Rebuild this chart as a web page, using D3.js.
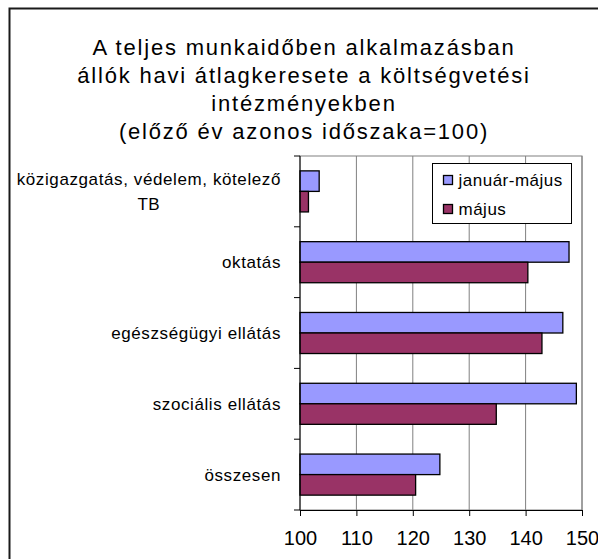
<!DOCTYPE html>
<html>
<head>
<meta charset="utf-8">
<script src="https://cdn.jsdelivr.net/npm/d3@7/dist/d3.min.js"></script>
<style>
   body { margin: 0; background: #fff; }
   text { font-family: "Liberation Sans", Arial, sans-serif; fill: #000; }
</style>
</head>
<body>
<div id="chart"></div>
<script>
// chart data
var titleLines = [
   "A teljes munkaidőben alkalmazásban",
   "állók havi átlagkeresete a költségvetési",
   "intézményekben",
   "(előző év azonos időszaka=100)"
];
var categories = ["közigazgatás", "oktatás", "egészségügyi", "szociális", "összesen"];
var categoryLabels = [
   ["közigazgatás, védelem, kötelező", "TB"],
   ["oktatás"],
   ["egészségügyi ellátás"],
   ["szociális ellátás"],
   ["összesen"]
];
var seriesNames = ["január-május", "május"];
var janMayValues = [103.4, 147.7, 146.6, 149.0, 124.8];
var mayValues = [101.5, 140.4, 142.9, 134.8, 120.5];
var xTicks = [100, 110, 120, 130, 140, 150];

var width = 598, height = 559;
var plot = {left: 300, right: 582, top: 156, bottom: 510};
var colors = ["#9999ff", "#993366"];

var svg = d3.select("#chart").append("svg")
   .attr("width", width)
   .attr("height", height);

// outer chart frame (runs off the window at right and bottom)
svg.append("rect")
   .attr("x", 9.5).attr("y", 8.5)
   .attr("width", 620).attr("height", 580)
   .attr("fill", "none")
   .attr("stroke", "#1a1a1a")
   .attr("stroke-width", 2);

// title
svg.append("g").selectAll("text")
   .data(titleLines)
   .enter().append("text")
   .attr("x", 304)
   .attr("y", function (d, i) { return 55 + i * 28; })
   .attr("text-anchor", "middle")
   .attr("font-size", 22)
   .attr("letter-spacing", 1.8)
   .text(function (d) { return d; });

var x = d3.scaleLinear().domain([100, 150]).range([plot.left, plot.right]);
var y = d3.scaleBand().domain(categories).range([plot.top, plot.bottom])
   .paddingInner(0.42).paddingOuter(0.21);
var ySub = d3.scaleBand().domain(seriesNames).range([0, y.bandwidth()]);

// plot area border and gridlines
svg.append("rect")
   .attr("x", plot.left).attr("y", plot.top)
   .attr("width", plot.right - plot.left).attr("height", plot.bottom - plot.top)
   .attr("fill", "#fff")
   .attr("stroke", "#808080");

svg.append("g").selectAll("line")
   .data(xTicks.slice(1))
   .enter().append("line")
   .attr("x1", function (d) { return x(d); })
   .attr("x2", function (d) { return x(d); })
   .attr("y1", plot.top).attr("y2", plot.bottom)
   .attr("stroke", "#808080");

// bars
var series = [janMayValues, mayValues];
series.forEach(function (vals, s) {
   svg.append("g").selectAll("rect")
      .data(categories)
      .enter().append("rect")
      .attr("x", x(100))
      .attr("y", function (d) { return y(d) + ySub(seriesNames[s]); })
      .attr("width", function (d, i) { return x(vals[i]) - x(100); })
      .attr("height", ySub.bandwidth())
      .attr("fill", colors[s])
      .attr("stroke", "#000")
      .attr("stroke-width", 1.3);
});

// x axis
var xAxis = d3.axisBottom(x).tickValues(xTicks).tickSize(6).tickPadding(15)
   .tickFormat(d3.format("d"));
var gx = svg.append("g")
   .attr("transform", "translate(0," + plot.bottom + ")")
   .call(xAxis);
gx.select(".domain").attr("stroke", "#000");
gx.selectAll(".tick line").attr("stroke", "#000");
gx.selectAll(".tick text").attr("font-size", 20).attr("font-family", "Liberation Sans, Arial, sans-serif");

// y axis line and ticks at category boundaries
svg.append("line")
   .attr("x1", plot.left).attr("x2", plot.left)
   .attr("y1", plot.top).attr("y2", plot.bottom)
   .attr("stroke", "#000");
var boundaries = d3.range(categories.length + 1);
svg.append("g").selectAll("line")
   .data(boundaries)
   .enter().append("line")
   .attr("x1", plot.left - 6).attr("x2", plot.left)
   .attr("y1", function (d) { return plot.top + d * y.step(); })
   .attr("y2", function (d) { return plot.top + d * y.step(); })
   .attr("stroke", "#000");

// category labels: block right aligned, lines centered within the block
var labelRight = 281, lineHeight = 25;
categoryLabels.forEach(function (lines, i) {
   var cy = y(categories[i]) + y.bandwidth() / 2;
   var t = svg.append("text")
      .attr("font-size", 17)
      .attr("letter-spacing", 0.6)
      .attr("text-anchor", "middle");
   var spans = t.selectAll("tspan")
      .data(lines)
      .enter().append("tspan")
      .attr("y", function (d, j) { return cy + (j - (lines.length - 1) / 2) * lineHeight + 6; })
      .text(function (d) { return d; });
   var maxw = 0;
   spans.each(function () { maxw = Math.max(maxw, this.getComputedTextLength()); });
   spans.attr("x", labelRight - maxw / 2);
});

// legend
var legend = svg.append("g").attr("transform", "translate(432.5,163.5)");
legend.append("rect")
   .attr("width", 139).attr("height", 60)
   .attr("fill", "#fff")
   .attr("stroke", "#000");
var items = legend.selectAll("g")
   .data(seriesNames)
   .enter().append("g")
   .attr("transform", function (d, i) { return "translate(11," + (12 + i * 29) + ")"; });
items.append("rect")
   .attr("width", 9).attr("height", 9)
   .attr("fill", function (d, i) { return colors[i]; })
   .attr("stroke", "#000")
   .attr("stroke-width", 1.3);
items.append("text")
   .attr("x", 15).attr("y", 10)
   .attr("font-size", 17)
   .attr("letter-spacing", 0.5)
   .text(function (d) { return d; });
</script>
</body>
</html>
